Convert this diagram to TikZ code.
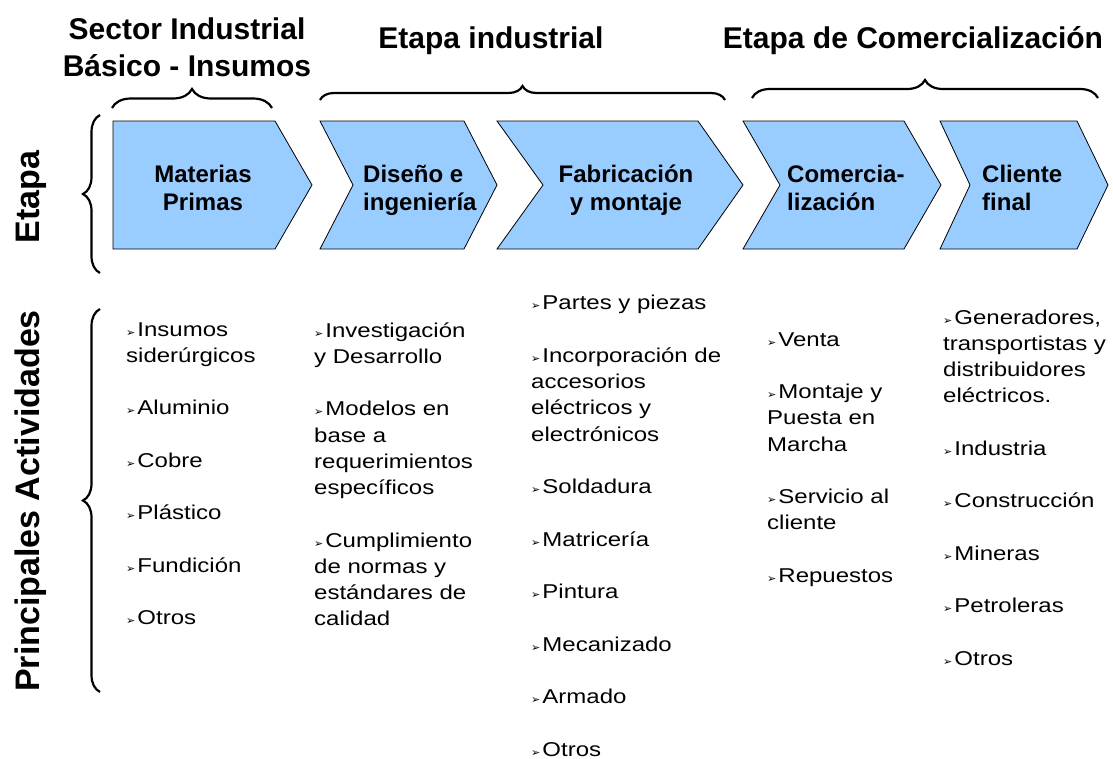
\documentclass[tikz,border=0pt]{standalone}
\usepackage{fontspec}
\setmainfont{Liberation Sans}
\newfontfamily\listfont[FakeStretch=1.2]{Liberation Sans}
\newfontfamily\bulfont{DejaVu Sans}
\usetikzlibrary{decorations.pathreplacing}

\definecolor{etapablue}{RGB}{153,204,255}
\newcommand{\bul}{{\bulfont\fontsize{11}{11}\selectfont ➢}\hspace{2pt}}
\newcommand{\nextitem}{\\[26.25pt]}

% multi-line nodes sit on the baseline of their last line
\tikzset{
	chevron/.style={draw=black, fill=etapablue, line width=0.8pt, line join=miter},
	curly/.style={decorate, decoration={brace, amplitude=#1}, line width=2.2pt},
	steplabel/.style={font=\fontsize{24}{28}\selectfont\bfseries, inner sep=0pt},
	toptitle/.style={font=\fontsize{30}{37}\selectfont\bfseries, inner sep=0pt, align=center},
	sidetitle/.style={font=\fontsize{34}{38}\selectfont\bfseries, inner sep=0pt, rotate=90},
	actlist/.style={font=\listfont\fontsize{20}{26.25}\selectfont, inner sep=0pt, align=left, anchor=base west}
}

\begin{document}
\begin{tikzpicture}[x=1pt,y=-1pt]
	\useasboundingbox (0,0) rectangle (1113,758);

	% etapas
	\draw[chevron] (113,121) -- (275,121) -- (312,185) -- (275,249) -- (113,249) -- cycle;
	\draw[chevron] (320,121) -- (464,121) -- (497,185) -- (464,249) -- (320,249) -- (353,185) -- cycle;
	\draw[chevron] (497,121) -- (698,121) -- (743,185) -- (698,249) -- (497,249) -- (543,185) -- cycle;
	\draw[chevron] (743,121) -- (904,121) -- (941,185) -- (904,249) -- (743,249) -- (780,185) -- cycle;
	\draw[chevron] (940,121) -- (1077,121) -- (1108,185) -- (1077,249) -- (940,249) -- (970,185) -- cycle;

	\node[steplabel, align=center, anchor=base] (mp) at (203,210) {Materias\\Primas};
	\node[steplabel, align=left, anchor=base west] (di) at (363,210) {Diseño e\\ingeniería};
	\node[steplabel, align=center, anchor=base] (fm) at (626,210) {Fabricación\\y montaje};
	\node[steplabel, align=left, anchor=base west] (co) at (787,210) {Comercia-\\lización};
	\node[steplabel, align=left, anchor=base west] (cf) at (982,210) {Cliente\\final};

	% titulos
	\node[toptitle, anchor=base] (sector) at (187,76) {Sector Industrial\\Básico - Insumos};
	\node[toptitle, anchor=base] (etind) at (491,48) {Etapa industrial};
	\node[toptitle, anchor=base] (etcom) at (913,48) {Etapa de Comercialización};

	\draw[curly=19] (112,108) -- (272,108);
	\draw[curly=14] (320,100) -- (725,100);
	\draw[curly=18] (752,98) -- (1098,98);

	% lados
	\node[sidetitle, anchor=base] (etapa) at (39,197) {Etapa};
	\node[sidetitle, anchor=base] (activ) at (39,501) {Principales Actividades};

	\draw[curly=17] (100,273) -- (100,115);
	\draw[curly=17] (100,692) -- (100,309);

	% actividades
	\node[actlist] (l1) at (126,624.75) {\bul Insumos\\siderúrgicos\nextitem
		\bul Aluminio\nextitem \bul Cobre\nextitem \bul Plástico\nextitem
		\bul Fundición\nextitem \bul Otros};
	\node[actlist] (l2) at (314,625.75) {\bul Investigación\\y Desarrollo\nextitem
		\bul Modelos en\\base a\\requerimientos\\específicos\nextitem
		\bul Cumplimiento\\de normas y\\estándares de\\calidad};
	\node[actlist] (l3) at (531,756) {\bul Partes y piezas\nextitem
		\bul Incorporación de\\accesorios\\eléctricos y\\electrónicos\nextitem
		\bul Soldadura\nextitem \bul Matricería\nextitem \bul Pintura\nextitem
		\bul Mecanizado\nextitem \bul Armado\nextitem \bul Otros};
	\node[actlist] (l4) at (767,582.25) {\bul Venta\nextitem
		\bul Montaje y\\Puesta en\\Marcha\nextitem
		\bul Servicio al\\cliente\nextitem \bul Repuestos};
	\node[actlist] (l5) at (943,665.25) {\bul Generadores,\\transportistas y\\distribuidores\\eléctricos.\nextitem
		\bul Industria\nextitem \bul Construcción\nextitem \bul Mineras\nextitem
		\bul Petroleras\nextitem \bul Otros};
\end{tikzpicture}
\end{document}
